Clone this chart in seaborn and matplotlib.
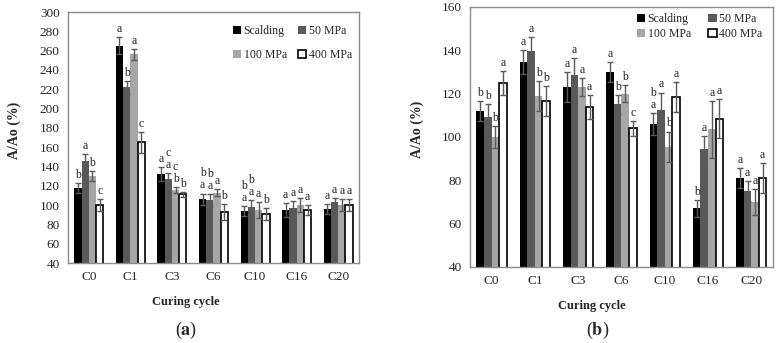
import numpy as np
import pandas as pd
import seaborn as sns
import matplotlib.pyplot as plt

cycles = ['C0', 'C1', 'C3', 'C6', 'C10', 'C16', 'C20']
treatments = ['Scalding', '50 MPa', '100 MPa', '400 MPa']

# panel (a)
scald_a = [118, 265, 132, 106, 94, 95, 96]
scald_a_err = [5, 9, 7, 6, 5, 7, 5]
mpa50_a = [146, 222, 127, 105, 98, 97, 103]
mpa50_a_err = [7, 7, 6, 6, 7, 7, 4]
mpa100_a = [130, 256, 116, 113, 95, 100, 100]
mpa100_a_err = [5, 6, 3, 4, 8, 7, 6]
mpa400_a = [100, 165, 111, 93, 91, 95, 100]
mpa400_a_err = [6, 11, 3, 8, 6, 5, 6]
letters_a = [
    ['b', 'a', 'a', 'b\na', 'b\na', 'a', 'a'],
    ['a', 'b', 'c\na', 'b\na', 'b\na', 'a', 'a'],
    ['b', 'a', 'c\nb', 'a', 'a', 'a', 'a'],
    ['c', 'c', 'b', 'b', 'b', 'a', 'a'],
]

# panel (b)
scald_b = [112, 134.5, 123, 130, 106, 67, 81]
scald_b_err = [4.5, 5.5, 7, 4.5, 5, 4, 4.5]
mpa50_b = [109, 139.5, 128.5, 115, 112.5, 94.5, 75]
mpa50_b_err = [6, 6.5, 8, 4.5, 8, 6, 4.5]
mpa100_b = [100, 119, 123, 120, 95.5, 103.5, 70]
mpa100_b_err = [5, 7, 4, 4, 7, 13, 6]
mpa400_b = [125, 116.5, 114, 104, 118.5, 108.5, 81]
mpa400_b_err = [5.5, 7, 5.5, 3.5, 7, 9, 7]
letters_b = [
    ['b', 'a', 'a', 'a', 'b\na', 'b', 'a'],
    ['b', 'a', 'a', 'b', 'a', 'a', 'a'],
    ['b', 'b', 'a', 'b', 'b', 'a', 'a'],
    ['a', 'b', 'a', 'c', 'a', 'a', 'a'],
]

sns.set_style('white')
plt.rcParams['font.family'] = ['Liberation Serif', 'DejaVu Serif']
plt.rcParams['mathtext.fontset'] = 'stix'

colors = ['#000000', '#595959', '#a6a6a6', '#ffffff']


def make_df(series):
    rows = []
    for t, vals in zip(treatments, series):
        for c, v in zip(cycles, vals):
            rows.append({'cycle': c, 'treatment': t, 'value': v})
    return pd.DataFrame(rows)


def panel(ax, series, errs, letters, ylim, step, fs, leg_kw):
    df = make_df(series)
    sns.barplot(data=df, x='cycle', y='value', hue='treatment', order=cycles,
                hue_order=treatments, palette=colors, width=0.7, errorbar=None,
                ax=ax, legend=False, saturation=1)
    bars = list(ax.containers)  # one container per treatment
    span = ylim[1] - ylim[0]
    for i, cont in enumerate(bars):
        for j, bar in enumerate(cont):
            if i == 3:
                bar.set_edgecolor('black')
                bar.set_linewidth(1.2)
            else:
                bar.set_edgecolor('none')
            x = bar.get_x() + bar.get_width() / 2
            top = series[i][j] + errs[i][j]
            ax.errorbar(x, series[i][j], yerr=errs[i][j], fmt='none',
                        ecolor='#5a5a5a', elinewidth=1, capsize=2, capthick=1)
            ax.text(x, top + span * 0.008, letters[i][j], ha='center', va='bottom',
                    fontsize=8.5, linespacing=1.0)
    ax.set_ylim(*ylim)
    ax.set_yticks(np.arange(ylim[0], ylim[1] + 1, step))
    ax.set_xlim(-0.5, len(cycles) - 0.5)
    ax.tick_params(axis='both', length=0, labelsize=fs, pad=6)
    for s in ax.spines.values():
        s.set_visible(True)
        s.set_color('#8c8c8c')
        s.set_linewidth(1)
    ax.set_xlabel('Curing cycle', fontsize=9, fontweight='bold')
    ax.set_ylabel('A/Ao (%)', fontsize=10, fontweight='bold')
    hs = [bars[k] for k in (0, 2, 1, 3)]
    labs = [treatments[k] for k in (0, 2, 1, 3)]
    ax.legend(hs, labs, ncol=2, frameon=False, fontsize=8.5, loc='upper left',
              borderaxespad=0, borderpad=0,
              handlelength=0.7, handleheight=0.7, handletextpad=0.2, **leg_kw)


fig = plt.figure(figsize=(7.78, 3.43), dpi=100)
ax1 = fig.add_axes([0.0874, 0.2332, 0.374, 0.7318])
ax2 = fig.add_axes([0.604, 0.2216, 0.3895, 0.758])

panel(ax1, [scald_a, mpa50_a, mpa100_a, mpa400_a],
      [scald_a_err, mpa50_a_err, mpa100_a_err, mpa400_a_err],
      letters_a, (40, 300), 20, 9.5,
      dict(bbox_to_anchor=(0.567, 0.948), labelspacing=1.0, columnspacing=0.95))
panel(ax2, [scald_b, mpa50_b, mpa100_b, mpa400_b],
      [scald_b_err, mpa50_b_err, mpa100_b_err, mpa400_b_err],
      letters_b, (40, 160), 20, 9.5,
      dict(bbox_to_anchor=(0.551, 0.977), labelspacing=0.27, columnspacing=1.5))

ax1.xaxis.set_label_coords(0.405, -0.131)
ax1.yaxis.set_label_coords(-0.16, 0.53)
ax2.xaxis.set_label_coords(0.403, -0.127)
ax2.yaxis.set_label_coords(-0.15, 0.53)

fig.text(186 / 778, 1 - 330 / 343, r'($\mathbf{a}$)', ha='center', va='center', fontsize=13)
fig.text(598 / 778, 1 - 330 / 343, r'($\mathbf{b}$)', ha='center', va='center', fontsize=13)

fig.savefig('out.png', dpi=100)
